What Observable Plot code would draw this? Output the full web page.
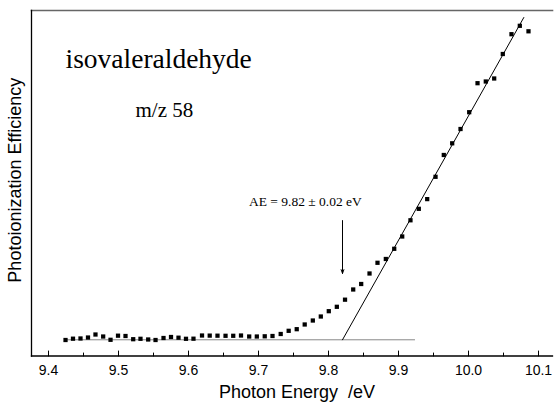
<!DOCTYPE html>
<html>
<head>
<meta charset="utf-8">
<script src="https://cdn.jsdelivr.net/npm/d3@7"></script>
<script src="https://cdn.jsdelivr.net/npm/@observablehq/plot@0.6"></script>
<style>
  html, body { margin: 0; padding: 0; background: #fff; }
  #chart { width: 559px; height: 403px; }
</style>
</head>
<body>
<div id="chart"></div>
<script>
// Photon energy (eV) of each measured point
const energy = [
  9.4243, 9.4350, 9.4457, 9.4564, 9.4671, 9.4781, 9.4886, 9.4993, 9.5100, 9.5210,
  9.5314, 9.5424, 9.5529, 9.5643, 9.5750, 9.5857, 9.5964, 9.6071, 9.6193, 9.6303,
  9.6414, 9.6529, 9.6639, 9.6750, 9.6867, 9.6976, 9.7089, 9.7200, 9.7317, 9.7431,
  9.7546, 9.7660, 9.7776, 9.7890, 9.8004, 9.8119, 9.8236, 9.8353, 9.8467, 9.8586,
  9.8700, 9.8819, 9.8939, 9.9053, 9.9171, 9.9290, 9.9410, 9.9529, 9.9647, 9.9767,
  9.9886, 10.0010, 10.0129, 10.0247, 10.0367, 10.0490, 10.0614, 10.0733, 10.0857
];
// Photoionization efficiency (arbitrary units)
const efficiency = [
  4.63, 5.01, 5.07, 5.35, 6.22, 5.64, 4.69, 5.88, 5.79, 4.86,
  4.98, 4.78, 4.63, 5.21, 5.50, 5.30, 4.98, 5.01, 5.93, 5.90,
  5.88, 5.85, 5.85, 5.93, 5.64, 5.64, 5.70, 5.79, 6.37, 7.29,
  7.76, 9.12, 10.27, 11.43, 12.97, 14.24, 16.30, 19.25, 20.84, 23.88,
  26.98, 28.08, 31.03, 34.59, 39.28, 42.60, 45.41, 51.87, 58.18, 61.56,
  65.70, 70.56, 78.96, 79.45, 80.32, 87.41, 93.14, 95.57, 93.98
];
// Linear fit of the onset and the background level
const fitEnergy = [9.82, 10.079];
const fitEfficiency = [4.69, 97.97];
const baseEnergy = [9.423, 9.923];
const baseEfficiency = [4.69, 4.69];
// Appearance energy annotation
const aeEnergy = 9.82;
const aeArrow = [39.2, 23.9];
const aeLabel = "AE = 9.82 \u00b1 0.02 eV";
const aeLabelPos = [9.767, 43.56];
// Axis ticks
const majorTicks = [9.4, 9.5, 9.6, 9.7, 9.8, 9.9, 10.0, 10.1];
const minorTicks = [9.45, 9.55, 9.65, 9.75, 9.85, 9.95, 10.05];
const tickLabels = ["9.4", "9.5", "9.6", "9.7", "9.8", "9.9", "10.0", "10.1"];

const points = energy.map((e, i) => ({e, v: efficiency[i]}));
const fit = fitEnergy.map((e, i) => ({e, v: fitEfficiency[i]}));
const base = baseEnergy.map((e, i) => ({e, v: baseEfficiency[i]}));

const serif = "Liberation Serif, Times New Roman, serif";
const sans = "Liberation Sans, Arial, sans-serif";
const tickShape = {draw(context, l) { context.moveTo(0, 0); context.lineTo(0, -l); }};

const chart = Plot.plot({
  width: 559,
  height: 403,
  marginLeft: 31,
  marginRight: 7,
  marginTop: 10,
  marginBottom: 47.5,
  x: {domain: [9.3757, 10.12], axis: null},
  y: {domain: [0, 100], axis: null},
  style: {background: "white", color: "black"},
  marks: [
    Plot.frame({anchor: "top", stroke: "#666", strokeWidth: 1.6}),
    Plot.frame({anchor: "left", stroke: "black", strokeWidth: 1.3}),
    Plot.frame({anchor: "bottom", stroke: "black", strokeWidth: 1.3}),
    Plot.vector(majorTicks, {x: d => d, frameAnchor: "bottom", length: 5, rotate: 0, anchor: "start", shape: tickShape, stroke: "black", strokeWidth: 1}),
    Plot.vector(minorTicks, {x: d => d, frameAnchor: "bottom", length: 3, rotate: 0, anchor: "start", shape: tickShape, stroke: "black", strokeWidth: 1}),
    Plot.text(majorTicks, {x: d => d, text: (d, i) => tickLabels[i], frameAnchor: "bottom", lineAnchor: "middle", dy: 14.5, fontSize: 14, fontFamily: sans, fill: "black"}),
    Plot.text(["Photon Energy\u00a0 /eV"], {frameAnchor: "bottom", lineAnchor: "middle", dx: 5, dy: 36, fontSize: 18, fontFamily: sans, fill: "black"}),
    Plot.text(["Photoionization Efficiency"], {frameAnchor: "left", textAnchor: "middle", lineAnchor: "middle", dx: -16, dy: -3, rotate: -90, fontSize: 18, fontFamily: sans, fill: "black"}),
    Plot.line(base, {x: "e", y: "v", stroke: "#888", strokeWidth: 1}),
    Plot.line(fit, {x: "e", y: "v", stroke: "black", strokeWidth: 1}),
    Plot.dot(points, {x: "e", y: "v", symbol: "square", r: 2.4, fill: "black", stroke: "none"}),
    Plot.arrow([aeArrow], {x: aeEnergy, y1: d => d[0], y2: d => d[1], stroke: "black", strokeWidth: 1, headLength: 6, headAngle: 40}),
    Plot.text([aeLabel], {x: aeLabelPos[0], y: aeLabelPos[1], lineAnchor: "bottom", fontSize: 13.5, fontFamily: serif, fill: "black"}),
    Plot.text(["isovaleraldehyde"], {frameAnchor: "top-left", dx: 34, dy: 57.5, textAnchor: "start", lineAnchor: "bottom", fontSize: 27.5, fontFamily: serif, fill: "black"}),
    Plot.text(["m/z 58"], {frameAnchor: "top-left", dx: 104, dy: 106, textAnchor: "start", lineAnchor: "bottom", fontSize: 21, fontFamily: serif, fill: "black"})
  ]
});
document.getElementById("chart").appendChild(chart);
</script>
</body>
</html>
